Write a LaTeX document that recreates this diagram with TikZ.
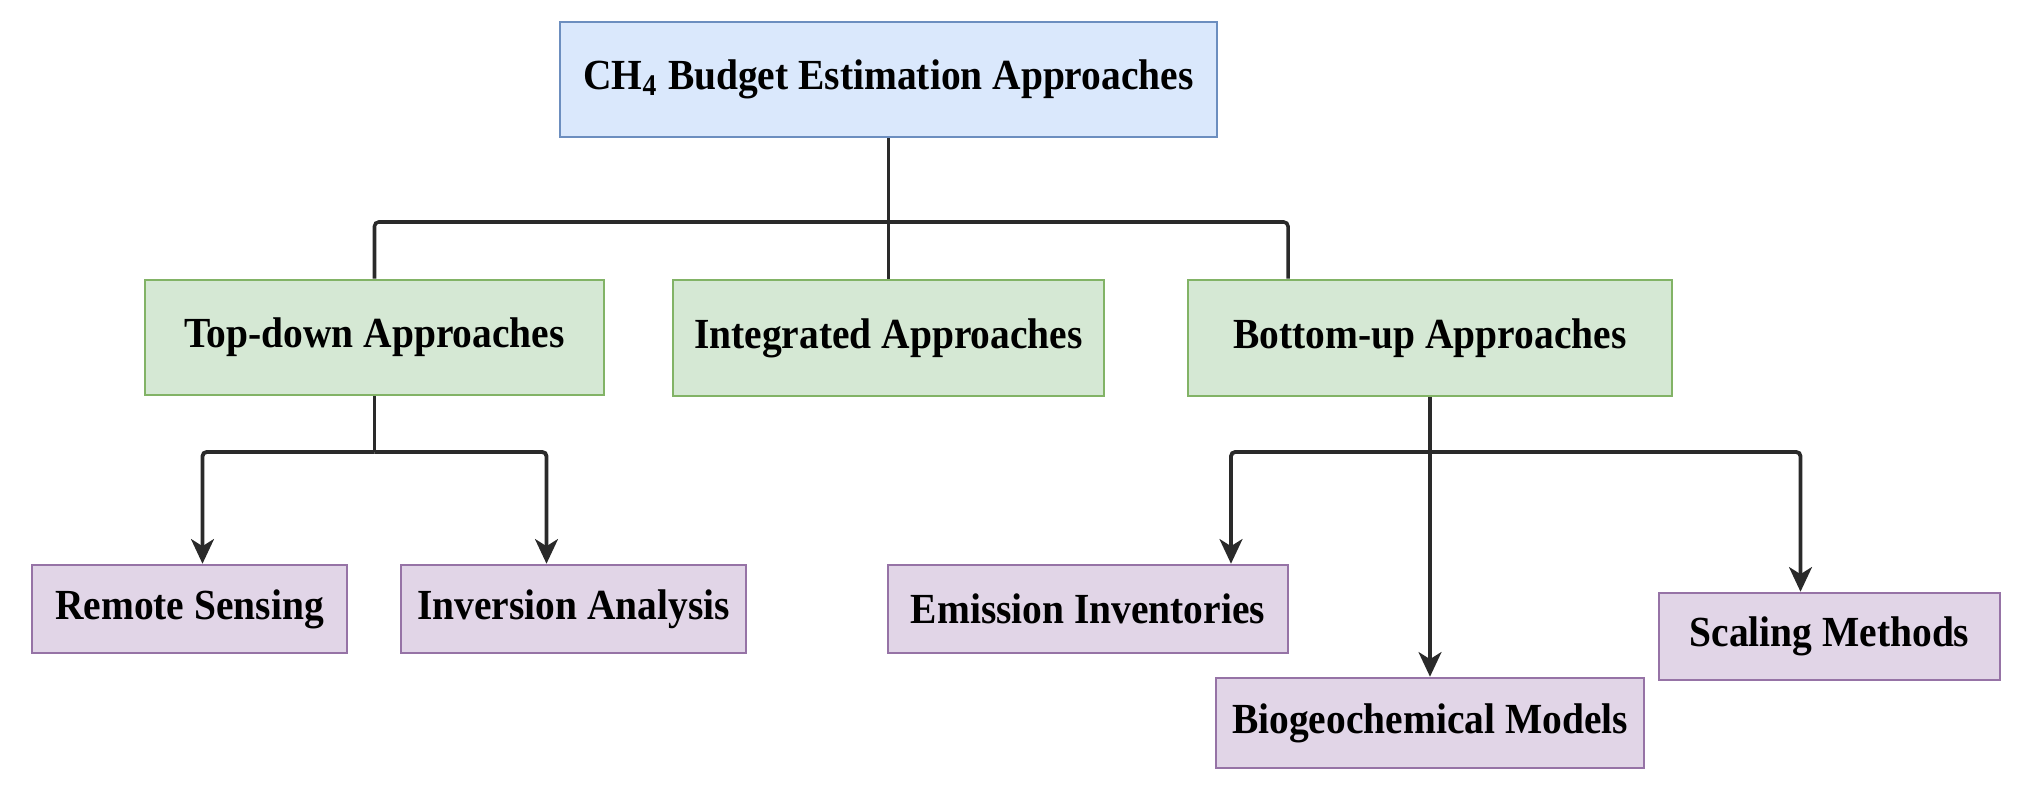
\documentclass[tikz,border=0pt]{standalone}
\usepackage{fontspec}
\setmainfont{Liberation Serif}[FakeStretch=0.92]
\usetikzlibrary{arrows.meta,calc}
\definecolor{bluefill}{HTML}{DAE8FC}
\definecolor{blueline}{HTML}{6C8EBF}
\definecolor{greenfill}{HTML}{D5E8D4}
\definecolor{greenline}{HTML}{82B366}
\definecolor{purplefill}{HTML}{E1D5E7}
\definecolor{purpleline}{HTML}{9673A6}
\definecolor{conn}{HTML}{2A2A2A}
\begin{document}
\begin{tikzpicture}[x=0.01cm,y=-0.01cm,
  box/.style={draw, line width=0.7pt, inner sep=0pt, align=center,
    font=\fontsize{12.2}{14}\selectfont\bfseries},
  bluebox/.style={box, fill=bluefill, draw=blueline},
  greenbox/.style={box, fill=greenfill, draw=greenline},
  purplebox/.style={box, fill=purplefill, draw=purpleline},
  link/.style={draw=conn, line width=1.0pt, rounded corners=1.2pt},
  arrowlink/.style={link, line width=1.1pt, -{Stealth[length=7pt,width=6.5pt,inset=2pt]}}
]
\useasboundingbox (0,0) rectangle (2017,788);
% nodes
\node[bluebox, minimum width=6.57cm, minimum height=1.15cm] (top) at (888.5,79.5) {CH\textsubscript{4} Budget Estimation Approaches};
\node[greenbox, minimum width=4.59cm, minimum height=1.15cm] (td) at (374.5,337.5) {Top-down Approaches};
\node[greenbox, minimum width=4.31cm, minimum height=1.16cm] (int) at (888.5,338) {Integrated Approaches};
\node[greenbox, minimum width=4.84cm, minimum height=1.16cm] (bu) at (1430,338) {Bottom-up Approaches};
\node[purplebox, minimum width=3.15cm, minimum height=0.88cm] (rs) at (189.5,609) {Remote Sensing};
\node[purplebox, minimum width=3.45cm, minimum height=0.88cm] (ia) at (573.5,609) {Inversion Analysis};
\node[purplebox, minimum width=4.00cm, minimum height=0.88cm] (ei) at (1088,609) {Emission Inventories};
\node[purplebox, minimum width=4.28cm, minimum height=0.90cm] (bg) at (1430,723) {Biogeochemical Models};
\node[purplebox, minimum width=3.41cm, minimum height=0.87cm] (sm) at (1829.5,636.5) {Scaling Methods};
% junctions
\coordinate (j1) at (888.5,222);
\coordinate (j2) at (374.5,452);
\coordinate (j3) at (1430,452);
% top level connectors
\draw[link] (top.south) -- (int.north);
\draw[link] (td.north) |- (j1) -| ($(bu.north)+(-142,0)$);
% top-down children
\draw[link, line width=1.1pt] (td.south) -- (j2);
\draw[arrowlink] (j2) -| ($(rs.north)+(13,0)$);
\draw[arrowlink] (j2) -| ($(ia.north)+(-27,0)$);
% bottom-up children
\draw[arrowlink] (bu.south) -- (bg.north);
\draw[arrowlink] (j3) -| ($(ei.north)+(143,0)$);
\draw[arrowlink] (j3) -| ($(sm.north)+(-29,0)$);
\end{tikzpicture}
\end{document}
